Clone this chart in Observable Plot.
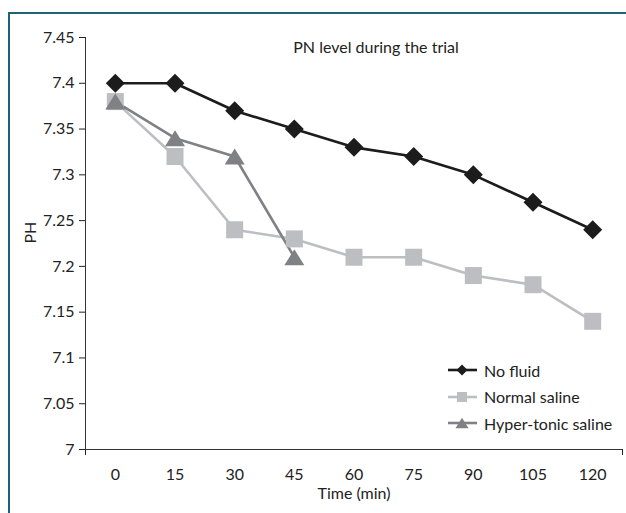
<!DOCTYPE html>
<html><head><meta charset="utf-8">
<script src="https://cdn.jsdelivr.net/npm/d3@7"></script>
<script src="https://cdn.jsdelivr.net/npm/@observablehq/plot@0.6"></script>
<style>
body{margin:0;background:#fff;}
#wrap{position:relative;width:626px;height:513px;overflow:hidden;font-family:Lato,"Open Sans",sans-serif;}
#border{position:absolute;left:8px;top:12px;width:640px;height:520px;border-top:2px solid #1f6272;border-left:2px solid #1f6272;box-sizing:border-box;}
#chart{position:absolute;left:0;top:0;}
#legend{position:absolute;left:446px;top:357px;font-size:16px;color:#222;}
.row{display:flex;align-items:center;height:26.5px;}
.row svg{margin-right:6px;}
</style></head>
<body>
<div id="wrap"><div id="border"></div><div id="chart"></div><div id="legend"></div></div>
<script>
const times = [0, 15, 30, 45, 60, 75, 90, 105, 120];
const noFluid = [7.4, 7.4, 7.37, 7.35, 7.33, 7.32, 7.3, 7.27, 7.24];
const normalSaline = [7.38, 7.32, 7.24, 7.23, 7.21, 7.21, 7.19, 7.18, 7.14];
const hyperTimes = [0, 15, 30, 45];
const hyperTonic = [7.38, 7.34, 7.32, 7.21];
const yTicks = [7, 7.05, 7.1, 7.15, 7.2, 7.25, 7.3, 7.35, 7.4, 7.45];
const seriesNames = ["No fluid", "Normal saline", "Hyper-tonic saline"];
const seriesColors = ["#1c1c1c", "#bdbec2", "#808184"];
const titleText = "PN level during the trial";
const xLabel = "Time (min)";
const yLabel = "PH";

const diamondSym = {draw(ctx, size){const r=Math.sqrt(size/Math.PI);ctx.moveTo(0,-r);ctx.lineTo(r,0);ctx.lineTo(0,r);ctx.lineTo(-r,0);ctx.closePath();}};
const squareSym = {draw(ctx, size){const r=Math.sqrt(size/Math.PI);ctx.rect(-r,-r,2*r,2*r);}};
const triSym = {draw(ctx, size){const r=Math.sqrt(size/Math.PI);ctx.moveTo(0,-0.8*r);ctx.lineTo(r,0.8*r);ctx.lineTo(-r,0.8*r);ctx.closePath();}};
const symbols = [diamondSym, squareSym, triSym];
const sizes = [9.5, 8.5, 10];

const series = [
  times.map((t,i)=>({t, v:noFluid[i]})),
  times.map((t,i)=>({t, v:normalSaline[i]})),
  hyperTimes.map((t,i)=>({t, v:hyperTonic[i]}))
];

const marks = [
  Plot.axisY({ticks: yTicks, tickSize: 6, tickPadding: 5, tickFormat: d => String(+d.toFixed(2)), label: null}),
  Plot.axisX({ticks: times, tickSize: 0, tickPadding: 19, tickFormat: d => String(d), label: null}),
  Plot.axisX({ticks: [-7.5, 127.5], tickSize: 6, tickFormat: () => "", label: null}),
  Plot.ruleY([7], {stroke: "#333"}),
  Plot.ruleX([-7.5], {stroke: "#333"}),
  Plot.text([titleText], {frameAnchor: "top", dx: 22, dy: 10, lineAnchor: "middle", fontSize: 16, fill: "#222"}),
  Plot.text([xLabel], {frameAnchor: "bottom", dy: 44, lineAnchor: "middle", fontSize: 16, fill: "#222"}),
  Plot.text([yLabel], {frameAnchor: "left", dx: -55, rotate: -90, lineAnchor: "middle", fontSize: 16, fill: "#222"})
];
series.forEach((d, i) => {
  marks.push(Plot.line(d, {x: "t", y: "v", stroke: seriesColors[i], strokeWidth: 2.6}));
});
series.forEach((d, i) => {
  marks.push(Plot.dot(d, {x: "t", y: "v", symbol: symbols[i], r: sizes[i], fill: seriesColors[i], stroke: "none"}));
});

const chart = Plot.plot({
  width: 626, height: 513,
  marginLeft: 85, marginRight: 4, marginTop: 37, marginBottom: 64,
  x: {domain: [-7.5, 127.5]},
  y: {domain: [7, 7.45]},
  style: {fontFamily: "Lato, 'Open Sans', sans-serif", fontSize: "16px", color: "#222", background: "transparent"},
  marks
});
document.getElementById("chart").appendChild(chart);

const legend = d3.select("#legend");
seriesNames.forEach((name, i) => {
  const row = legend.append("div").attr("class", "row");
  const svg = row.append("svg").attr("width", 32).attr("height", 16);
  svg.append("line").attr("x1", 2).attr("x2", 31).attr("y1", 8).attr("y2", 8).attr("stroke", seriesColors[i]).attr("stroke-width", 2.6);
  const s = [5.5, 5, 6.5][i];
  const p = d3.path();
  symbols[i].draw(p, Math.PI * s * s);
  svg.append("path").attr("transform", "translate(16,8)").attr("d", p.toString()).attr("fill", seriesColors[i]);
  row.append("span").text(name);
});
</script>
</body></html>
